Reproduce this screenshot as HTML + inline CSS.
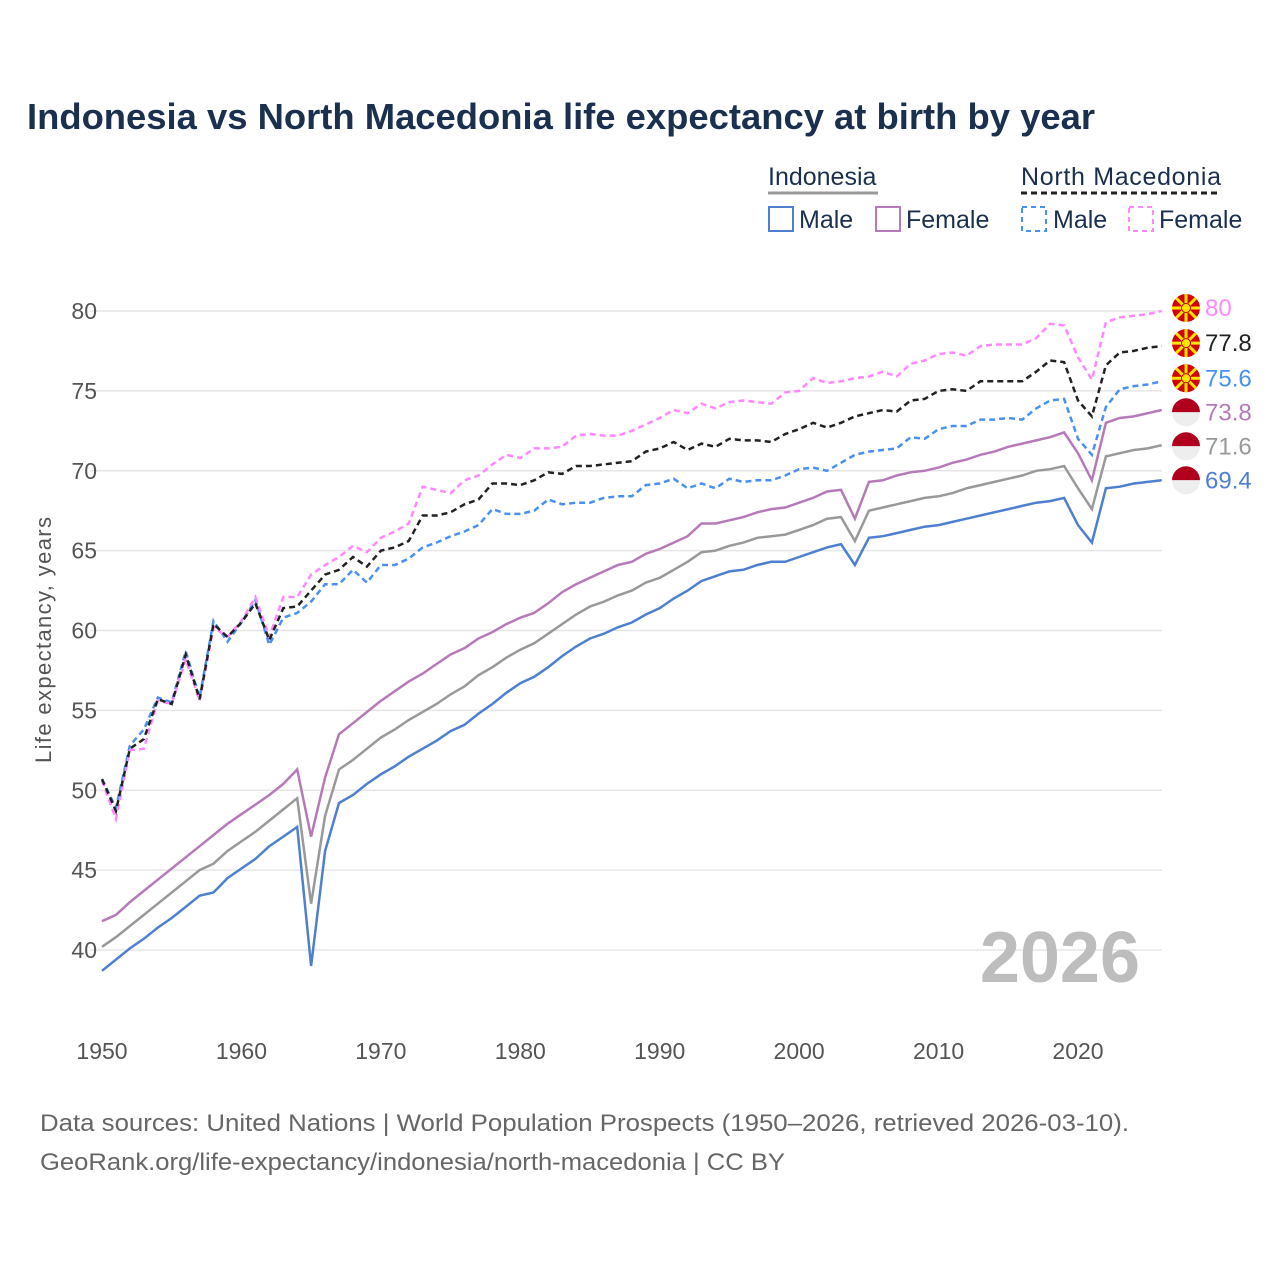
<!DOCTYPE html>
<html><head><meta charset="utf-8"><style>
body{margin:0;background:#fff;font-family:"Liberation Sans",sans-serif}
</style></head><body>
<svg width="1280" height="1280" xmlns="http://www.w3.org/2000/svg" style="font-family:'Liberation Sans',sans-serif">
<text x="27" y="129" font-size="36" font-weight="bold" fill="#1b2f4e" textLength="1068" lengthAdjust="spacingAndGlyphs">Indonesia vs North Macedonia life expectancy at birth by year</text>
<g font-size="25" fill="#1b2f4e">
<text x="768" y="185">Indonesia</text>
<line x1="768" y1="193" x2="878" y2="193" stroke="#999" stroke-width="3"/>
<text x="1021" y="185" textLength="200">North Macedonia</text>
<line x1="1021" y1="193" x2="1221" y2="193" stroke="#222" stroke-width="3" stroke-dasharray="6,4"/>
<rect x="769" y="207" width="24" height="24" fill="none" stroke="#4f7fcf" stroke-width="2"/>
<text x="799" y="228">Male</text>
<rect x="876" y="207" width="24" height="24" fill="none" stroke="#b57bb8" stroke-width="2"/>
<text x="906" y="228">Female</text>
<rect x="1022" y="207" width="24" height="24" fill="none" stroke="#4a90f0" stroke-width="2" stroke-dasharray="5,4"/>
<text x="1053" y="228">Male</text>
<rect x="1129" y="207" width="24" height="24" fill="none" stroke="#ff88ff" stroke-width="2" stroke-dasharray="5,4"/>
<text x="1159" y="228">Female</text>
</g>
<g id="grid"></g>
<text x="1140" y="982" font-size="72" font-weight="bold" fill="#bdbdbd" text-anchor="end">2026</text>
<g id="lines"></g>
<g id="ends"></g>
<text transform="translate(51,640) rotate(-90)" font-size="22" fill="#555" text-anchor="middle" textLength="246">Life expectancy, years</text>
<text x="40" y="1131" font-size="24" fill="#666" textLength="1089" lengthAdjust="spacingAndGlyphs">Data sources: United Nations | World Population Prospects (1950–2026, retrieved 2026-03-10).</text>
<text x="40" y="1170" font-size="24" fill="#666" textLength="745" lengthAdjust="spacingAndGlyphs">GeoRank.org/life-expectancy/indonesia/north-macedonia | CC BY</text>
</svg>
<script>
const years=[];for(let y=1950;y<=2026;y++)years.push(y);
const yTicks=[40,45,50,55,60,65,70,75,80];
const xTicks=[1950,1960,1970,1980,1990,2000,2010,2020];
const idnMale=[38.7,39.4,40.1,40.7,41.4,42.0,42.7,43.4,43.6,44.5,45.1,45.7,46.5,47.1,47.7,39.0,46.2,49.2,49.7,50.4,51.0,51.5,52.1,52.6,53.1,53.7,54.1,54.8,55.4,56.1,56.7,57.1,57.7,58.4,59.0,59.5,59.8,60.2,60.5,61.0,61.4,62.0,62.5,63.1,63.4,63.7,63.8,64.1,64.3,64.3,64.6,64.9,65.2,65.4,64.1,65.8,65.9,66.1,66.3,66.5,66.6,66.8,67.0,67.2,67.4,67.6,67.8,68.0,68.1,68.3,66.6,65.5,68.9,69.0,69.2,69.3,69.4];
const idnTotal=[40.2,40.8,41.5,42.2,42.9,43.6,44.3,45.0,45.4,46.2,46.8,47.4,48.1,48.8,49.5,42.9,48.4,51.3,51.9,52.6,53.3,53.8,54.4,54.9,55.4,56.0,56.5,57.2,57.7,58.3,58.8,59.2,59.8,60.4,61.0,61.5,61.8,62.2,62.5,63.0,63.3,63.8,64.3,64.9,65.0,65.3,65.5,65.8,65.9,66.0,66.3,66.6,67.0,67.1,65.6,67.5,67.7,67.9,68.1,68.3,68.4,68.6,68.9,69.1,69.3,69.5,69.7,70.0,70.1,70.3,68.9,67.6,70.9,71.1,71.3,71.4,71.6];
const idnFemale=[41.8,42.2,43.0,43.7,44.4,45.1,45.8,46.5,47.2,47.9,48.5,49.1,49.7,50.4,51.3,47.1,50.8,53.5,54.2,54.9,55.6,56.2,56.8,57.3,57.9,58.5,58.9,59.5,59.9,60.4,60.8,61.1,61.7,62.4,62.9,63.3,63.7,64.1,64.3,64.8,65.1,65.5,65.9,66.7,66.7,66.9,67.1,67.4,67.6,67.7,68.0,68.3,68.7,68.8,67.0,69.3,69.4,69.7,69.9,70.0,70.2,70.5,70.7,71.0,71.2,71.5,71.7,71.9,72.1,72.4,71.1,69.4,73.0,73.3,73.4,73.6,73.8];
const mkdTotal=[50.7,48.7,52.6,53.2,55.7,55.4,58.5,55.7,60.4,59.6,60.5,61.7,59.4,61.4,61.5,62.5,63.5,63.8,64.6,64.0,65.0,65.2,65.6,67.2,67.2,67.4,67.9,68.2,69.2,69.2,69.1,69.4,69.9,69.8,70.3,70.3,70.4,70.5,70.6,71.2,71.4,71.8,71.3,71.7,71.5,72.0,71.9,71.9,71.8,72.3,72.6,73.0,72.7,73.0,73.4,73.6,73.8,73.7,74.4,74.5,75.0,75.1,75.0,75.6,75.6,75.6,75.6,76.2,76.9,76.8,74.4,73.4,76.6,77.4,77.5,77.7,77.8];
const mkdMale=[50.7,48.9,52.8,53.8,55.8,55.5,58.7,55.8,60.6,59.3,60.5,61.9,59.1,60.8,61.1,61.8,62.9,62.9,63.8,63.0,64.1,64.1,64.5,65.2,65.5,65.9,66.2,66.6,67.6,67.3,67.3,67.5,68.2,67.9,68.0,68.0,68.3,68.4,68.4,69.1,69.2,69.5,68.9,69.2,68.9,69.5,69.3,69.4,69.4,69.7,70.1,70.2,70.0,70.5,71.0,71.2,71.3,71.4,72.1,72.0,72.6,72.8,72.8,73.2,73.2,73.3,73.2,73.9,74.4,74.5,72.0,71.0,74.0,75.1,75.3,75.4,75.6];
const mkdFemale=[50.6,48.2,52.5,52.6,55.6,55.4,58.2,55.6,60.2,59.6,60.6,62.1,59.6,62.1,62.1,63.5,64.1,64.6,65.3,64.9,65.8,66.2,66.7,69.0,68.8,68.6,69.4,69.7,70.4,71.0,70.8,71.4,71.4,71.5,72.2,72.3,72.2,72.2,72.5,72.9,73.3,73.8,73.6,74.2,73.9,74.3,74.4,74.3,74.2,74.9,75.0,75.8,75.5,75.6,75.8,75.9,76.2,75.9,76.7,76.9,77.3,77.4,77.2,77.8,77.9,77.9,77.9,78.3,79.2,79.1,77.1,75.7,79.3,79.6,79.7,79.8,80.0];
const NS="http://www.w3.org/2000/svg";
const X=y=>102+(y-1950)*(976/70);
const Y=v=>311+(80-v)*(639/40);
const grid=document.getElementById('grid');
yTicks.forEach(t=>{
 const l=document.createElementNS(NS,'line');
 l.setAttribute('x1',90);l.setAttribute('x2',1162);l.setAttribute('y1',Y(t));l.setAttribute('y2',Y(t));
 l.setAttribute('stroke','#e6e6e6');l.setAttribute('stroke-width',1.5);
 
 
 grid.appendChild(l);
 const tx=document.createElementNS(NS,'text');
 tx.setAttribute('x',97);tx.setAttribute('y',Y(t)+8);tx.setAttribute('text-anchor','end');
 tx.setAttribute('font-size',23);tx.setAttribute('fill','#555');tx.textContent=t;
 
 
 grid.appendChild(tx);
});
xTicks.forEach(t=>{
 const tx=document.createElementNS(NS,'text');
 tx.setAttribute('x',X(t));tx.setAttribute('y',1059);tx.setAttribute('text-anchor','middle');
 tx.setAttribute('font-size',23);tx.setAttribute('fill','#555');tx.textContent=t;
 
 
 grid.appendChild(tx);
});
const series=[
 [idnMale,'#4f7fcf',null,'indonesia-male-line','idn'],
 [idnTotal,'#999999',null,'indonesia-total-line','idn'],
 [idnFemale,'#b57bb8',null,'indonesia-female-line','idn'],
 [mkdMale,'#4a90f0','6,4','macedonia-male-line','mkd'],
 [mkdFemale,'#ff88ff','6,4','macedonia-female-line','mkd'],
 [mkdTotal,'#222222','6,4','macedonia-total-line','mkd']];
const lines=document.getElementById('lines'),ends=document.getElementById('ends');
series.forEach(s=>{
 const p=document.createElementNS(NS,'path');
 p.setAttribute('d',s[0].map((v,i)=>(i?'L':'M')+X(years[i]).toFixed(1)+','+Y(v).toFixed(1)).join(''));
 p.setAttribute('fill','none');p.setAttribute('stroke',s[1]);p.setAttribute('stroke-width',2.5);
 if(s[2])p.setAttribute('stroke-dasharray',s[2]);
 
 
 lines.appendChild(p);
});
const labs=series.map(s=>({v:s[0][s[0].length-1],c:s[1],f:s[4]})).sort((a,b)=>b.v-a.v);
let prev=-1e9;
labs.forEach(o=>{
 let y=Math.max(Y(o.v)-3,prev+34);prev=y;
 const g=document.createElementNS(NS,'g');
 
 
 if(o.f==='mkd'){
  g.innerHTML=`<circle cx="1186" cy="${y}" r="14" fill="#d20000"/>`+
   [0,45,90,135].map(a=>`<line x1="${1186-14*Math.cos(a*Math.PI/180)}" y1="${y-14*Math.sin(a*Math.PI/180)}" x2="${1186+14*Math.cos(a*Math.PI/180)}" y2="${y+14*Math.sin(a*Math.PI/180)}" stroke="#ffe600" stroke-width="3"/>`).join('')+
   `<circle cx="1186" cy="${y}" r="4.5" fill="#ffe600" stroke="#d20000" stroke-width="1"/>`;
 }else{
  g.innerHTML=`<path d="M1172,${y} A14,14 0 0 1 1200,${y} Z" fill="#b0001e"/><path d="M1172,${y} A14,14 0 0 0 1200,${y} Z" fill="#eeeeee"/>`;
 }
 const t=document.createElementNS(NS,'text');
 t.setAttribute('x',1205);t.setAttribute('y',y+8);t.setAttribute('font-size',24);t.setAttribute('fill',o.c);
 t.textContent=String(o.v);
 g.appendChild(t);
 ends.appendChild(g);
});
</script>
</body></html>
